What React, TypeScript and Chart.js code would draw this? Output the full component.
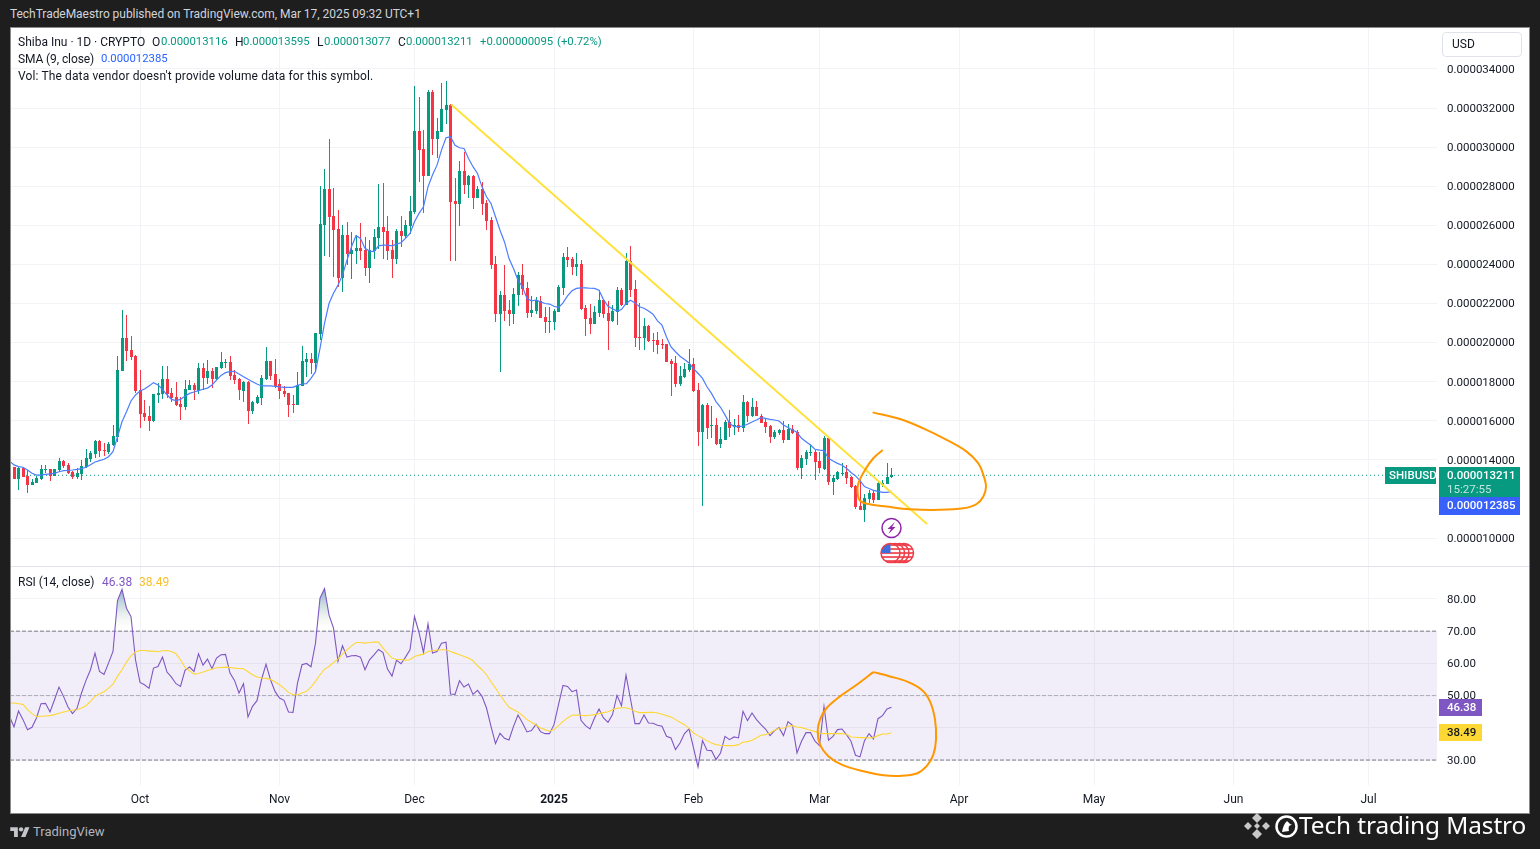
import React, { useEffect, useRef } from "react";
import { Chart, registerables } from "chart.js";

Chart.register(...registerables);

// Prices are given in millionths of a USD. Day 0 is 1 Oct 2024.
const firstCandleDay = -28;
// [open, high, low, close]
const candlesSep = [
  [13.63,13.65,13.02,13.02],[13.02,13.65,12.46,13.58],[13.58,13.62,13.11,13.14],[13.19,13.48,12.32,12.71],
  [12.71,13.0,12.71,12.85],[12.81,13.17,12.81,13.09],[13.02,13.72,12.97,13.53],[13.48,13.72,13.31,13.53],
  [13.53,13.53,12.92,13.17],[13.17,13.53,13.17,13.53],[13.48,14.11,13.38,13.94],[13.94,13.99,13.58,13.68],
  [13.74,13.84,13.28,13.33],[13.38,13.43,13.02,13.12],[13.12,13.58,13.02,13.33],[13.28,13.99,12.97,13.68],
  [13.63,14.55,13.58,14.09],[14.04,14.43,13.89,14.35],[14.3,15.01,14.09,14.96],[14.96,15.01,14.15,14.45],
  [14.5,14.86,14.2,14.45],[14.38,14.91,14.3,14.81],[14.76,15.78,14.71,15.22],[15.17,19.31,14.91,18.59],
  [18.54,21.66,18.54,20.23],[20.23,21.41,19.06,19.57],[19.62,20.33,19.11,19.26],[19.31,19.36,17.42,17.52],
];
const candlesOct = [
  [17.57,18.59,15.63,16.34],[16.4,17.06,15.99,16.19],[16.24,16.75,15.47,15.99],[15.99,17.37,15.94,17.37],
  [17.32,17.93,16.89,17.42],[17.37,18.8,17.11,18.13],[18.13,18.8,17.14,17.37],[17.42,17.67,16.96,17.16],
  [17.21,17.98,16.75,16.8],[16.86,17.21,16.04,16.7],[16.7,18.08,16.55,17.62],[17.57,18.08,17.57,17.83],
  [17.83,17.93,17.06,17.57],[17.52,18.94,17.37,18.7],[18.7,18.95,17.57,18.19],[18.19,19.11,17.88,18.54],
  [18.54,18.7,17.67,18.13],[18.13,18.75,18.08,18.75],[18.7,19.52,18.65,19.0],[18.95,19.16,18.7,19.0],
  [19.0,19.31,18.08,18.29],[18.34,18.59,17.88,18.08],[18.13,18.19,17.06,17.57],[17.52,18.03,16.96,17.98],
  [17.98,18.03,15.83,16.5],[16.5,17.01,16.34,16.96],[16.91,17.32,16.86,17.21],[17.16,18.34,16.8,18.19],
  [18.13,19.77,18.08,19.06],[19.06,19.06,18.08,18.29],[18.39,19.16,17.67,17.78],
];
const candlesNov = [
  [17.88,18.13,17.11,17.52],[17.52,17.78,17.21,17.37],[17.42,17.42,16.19,16.8],[16.86,17.32,16.4,16.8],
  [16.8,18.49,16.8,17.83],[17.78,19.82,17.78,19.06],[19.0,19.46,18.24,19.16],[19.16,19.45,18.39,18.95],
  [18.95,20.47,18.51,20.47],[20.44,28.01,20.13,26.06],[26.01,28.88,24.43,27.85],[27.85,30.41,24.39,26.42],
  [26.47,27.9,23.37,25.76],[25.81,26.78,22.86,23.33],[23.33,26.01,22.6,25.5],[25.5,26.17,23.97,24.53],
  [24.53,25.64,23.25,24.73],[24.68,25.5,24.02,24.83],[24.83,26.11,24.22,24.68],[24.73,25.41,23.4,23.81],
  [23.81,25.24,23.05,24.73],[24.68,25.81,24.27,25.4],[25.35,28.11,24.78,25.91],[25.91,28.16,24.27,25.65],
  [25.7,26.47,24.22,24.68],[24.73,25.24,23.3,24.27],[24.27,25.81,24.02,25.7],[25.7,26.47,24.9,25.45],
  [25.45,26.27,25.35,26.01],[25.96,27.49,25.55,26.73],
];
const candlesDec = [
  [26.68,33.12,26.57,30.82],[30.82,32.56,28.21,29.85],[29.9,30.87,26.61,28.52],[28.52,32.92,28.52,32.81],
  [32.81,32.92,29.59,30.41],[30.41,31.48,29.44,30.82],[30.77,33.27,30.77,31.95],[31.89,33.38,31.18,32.15],
  [32.15,32.23,24.17,27.19],[27.24,28.4,24.17,27.09],[27.09,29.29,25.96,28.77],[28.77,29.75,27.6,28.06],
  [28.06,28.57,27.39,28.52],[28.52,28.57,26.83,27.39],[27.39,28.01,27.39,27.85],[27.85,28.21,26.52,27.09],
  [27.14,27.29,25.76,26.22],[26.27,26.42,23.76,23.97],[24.02,24.43,21.05,21.46],[21.45,22.63,18.49,22.42],
  [22.42,23.96,21.1,21.61],[21.66,22.17,20.84,21.45],[21.45,22.78,20.94,22.48],[22.42,23.6,21.86,23.45],
  [23.45,24.01,22.42,22.73],[22.78,23.09,21.25,21.5],[21.5,22.37,21.3,21.66],[21.61,22.32,21.45,22.12],
  [22.12,22.37,21.25,21.25],[21.3,21.81,20.48,21.04],[21.04,21.81,20.48,21.1],
];
const candlesJan = [
  [21.04,21.71,20.63,21.61],[21.56,22.94,21.56,22.83],[22.78,24.57,22.42,24.37],[24.37,24.88,23.86,24.22],
  [24.27,24.37,23.45,23.86],[23.86,24.57,23.4,24.01],[24.01,24.22,21.66,21.71],[21.76,21.91,20.33,21.2],
  [21.25,21.96,20.43,20.94],[20.94,21.86,20.94,21.56],[21.5,22.68,21.3,22.17],[22.17,22.17,21.25,21.45],
  [21.5,22.12,19.61,21.1],[21.1,21.91,21.04,21.61],[21.56,22.83,20.89,22.68],[22.68,22.78,21.86,21.91],
  [21.91,24.57,21.91,24.16],[24.16,24.93,22.32,22.68],[22.73,23.19,19.77,20.23],[20.28,22.02,19.61,20.23],
  [20.23,21.25,19.61,20.84],[20.84,20.89,20.02,20.07],[20.12,20.48,19.51,20.07],[20.12,20.53,19.41,19.87],
  [19.92,20.17,19.66,19.87],[19.92,19.92,19.0,19.0],[19.05,19.15,17.26,18.9],[18.95,19.31,17.72,17.87],
  [17.87,18.79,17.77,18.28],[18.23,18.95,18.18,18.64],[18.59,19.66,18.49,18.9],
];
const candlesFeb = [
  [18.9,19.2,17.46,17.52],[17.57,17.91,14.71,15.43],[15.43,16.86,11.66,16.81],[16.81,16.89,15.07,15.63],
  [15.73,16.76,15.12,15.78],[15.78,16.14,14.76,14.81],[14.81,15.68,14.63,15.07],[15.02,16.04,15.02,15.94],
  [15.94,16.55,15.17,15.63],[15.73,16.09,15.27,15.78],[15.78,16.3,15.43,15.63],[15.63,17.32,15.43,16.96],
  [16.96,17.01,15.94,16.24],[16.24,17.16,16.19,16.7],[16.7,17.01,16.24,16.24],[16.24,16.35,15.89,15.89],
  [15.94,16.09,15.37,15.68],[15.73,15.78,14.86,15.17],[15.17,15.53,15.07,15.43],[15.37,15.58,15.27,15.53],
  [15.53,15.99,14.86,15.02],[15.02,15.83,15.02,15.58],[15.58,15.78,15.32,15.37],[15.43,15.53,13.48,13.58],
  [13.58,14.25,13.02,14.1],[14.04,14.5,13.74,14.4],[14.35,14.81,14.2,14.4],[14.4,14.5,12.97,13.89],
];
const candlesMar = [
  [13.94,14.4,13.33,13.58],[13.53,15.22,13.48,15.12],[15.12,15.17,12.71,12.87],[12.87,13.23,12.2,13.07],
  [13.02,13.43,12.97,13.38],[13.28,13.84,13.18,13.33],[13.38,13.74,12.77,13.07],[13.12,13.18,12.56,12.61],
  [12.66,12.71,11.49,11.59],[11.64,13.02,11.44,11.44],[11.44,12.25,10.82,12.05],[12.0,12.46,11.79,12.31],
  [12.31,12.46,11.79,11.95],[11.95,12.92,11.95,12.82],[12.71,12.97,12.61,12.82],[12.77,13.84,12.77,13.12],
  [13.116,13.595,13.077,13.211],
];
const lineFirstDay = -29;
const smaValues = [
  13.94,13.74,13.65,13.62,13.48,13.31,13.22,13.22,13.26,13.28,13.31,13.39,13.45,13.46,13.48,13.51,13.55,13.62,13.75,13.89,
  13.96,14.03,14.16,14.42,15.18,15.95,16.46,17.01,17.32,17.52,17.62,17.78,17.95,17.83,17.61,17.33,17.09,17.03,17.09,17.26,
  17.4,17.47,17.54,17.61,17.67,17.83,18.08,18.32,18.46,18.51,18.53,18.39,18.25,18.12,18.0,17.88,17.78,17.78,17.78,17.76,
  17.73,17.71,17.71,17.71,17.81,17.88,17.9,18.17,18.51,19.7,20.98,22.0,22.52,22.94,23.45,24.22,24.9,25.47,25.33,24.82,
  24.68,24.65,24.95,24.99,24.99,24.95,25.04,25.11,25.33,25.58,26.18,26.61,26.95,27.97,28.57,29.08,29.85,30.48,30.53,30.1,
  29.97,29.93,29.42,29.0,28.65,27.97,27.46,27.12,26.44,25.75,25.15,24.3,23.79,23.19,22.85,22.25,22.14,22.17,22.08,22.0,
  21.97,21.86,21.79,22.03,22.39,22.65,22.77,22.8,22.8,22.78,22.77,22.68,22.2,21.86,21.73,21.61,21.69,22.0,22.17,22.03,
  21.83,21.76,21.62,21.45,21.11,20.89,20.29,19.78,19.53,19.3,19.13,18.96,18.67,18.43,18.17,17.74,17.4,16.98,16.69,16.3,
  15.87,15.7,15.7,15.73,15.82,15.94,16.04,16.16,16.12,16.07,16.04,15.99,15.78,15.65,15.53,15.41,15.1,14.93,14.76,14.54,
  14.5,14.47,14.08,13.94,13.82,13.72,13.57,13.35,13.18,12.94,12.63,12.53,12.44,12.39,12.34,12.34,12.385,
];
const rsiValues = [
  43.57,40.27,45.22,42.54,39.44,40.17,43.06,47.49,47.6,44.91,48.73,52.65,49.76,46.46,44.4,46.05,50.8,54.72,58.02,63.18,
  57.5,56.58,60.09,63.7,79.49,83.0,77.11,74.53,61.12,54.1,53.38,52.24,58.54,59.05,61.94,57.3,55.75,53.69,52.86,57.81,
  58.85,57.5,62.97,59.47,61.32,58.33,61.63,62.66,62.77,56.99,54.72,50.8,53.69,43.37,46.67,48.42,54.92,59.77,54.92,51.31,
  49.25,48.53,44.91,44.81,53.89,59.57,59.98,58.95,66.28,80.21,83.2,75.05,70.92,60.6,65.45,61.94,62.35,62.46,61.94,58.02,
  61.11,62.66,64.31,63.38,58.22,56.06,61.01,59.88,61.94,64.21,74.53,69.58,63.38,72.26,63.18,63.69,66.27,66.58,50.48,50.38,
  54.61,52.65,53.58,50.38,51.62,49.76,46.15,40.47,35.11,38.31,36.76,36.24,40.47,43.98,41.51,38.72,39.13,41.09,38.82,38.2,
  38.2,40.99,47.18,53.17,52.86,51.21,51.72,42.33,40.68,39.65,43.05,45.84,43.05,41.71,44.09,50.07,46.87,56.37,48.94,41.3,
  41.3,43.98,41.51,41.4,40.78,40.47,37.38,36.86,33.25,35.31,38.2,39.65,33.76,27.88,36.03,33.04,32.94,30.15,32.21,37.37,
  36.34,37.17,36.86,45.11,42.23,44.6,42.53,40.99,39.64,37.58,39.13,40.06,37.58,41.91,40.78,32.21,35.83,38.51,38.51,35.83,
  34.48,46.66,36.14,37.37,39.44,39.64,37.89,35.83,31.49,30.98,36.03,38.2,36.55,42.84,43.77,45.84,46.38,
];
const rsiMaValues = [
  47.7,47.7,47.49,47.29,45.63,44.4,43.47,43.57,43.68,43.78,44.09,44.5,44.91,45.22,45.53,45.63,46.15,46.87,48.22,49.76,
  50.59,51.21,52.34,53.58,55.96,58.02,60.39,62.35,63.59,64.0,64.0,63.8,63.8,63.59,63.9,64.0,63.7,62.97,61.12,58.74,
  57.71,56.68,56.88,57.3,57.81,58.23,58.64,58.74,58.85,58.74,58.54,58.43,58.33,57.4,56.47,55.75,55.44,55.34,55.03,54.3,
  53.38,52.24,51.0,50.28,50.28,50.8,51.31,52.65,54.41,56.47,58.23,59.05,60.29,61.32,62.9,64.2,65.45,66.48,66.48,66.27,
  66.48,66.58,66.58,64.73,63.18,61.63,61.22,61.22,61.01,61.11,62.15,62.56,62.87,63.69,63.9,64.11,64.21,64.21,63.69,63.18,
  62.66,62.15,61.63,60.8,59.26,58.02,56.47,54.3,52.34,50.28,48.21,46.36,45.63,44.91,43.88,42.54,41.71,40.89,39.96,39.44,
  38.93,39.44,40.68,42.02,43.05,43.88,43.98,43.88,43.78,43.88,44.09,44.4,44.71,45.01,45.63,46.05,46.25,46.25,45.84,45.12,
  44.71,44.71,44.81,44.81,44.6,44.19,43.78,43.36,42.54,41.71,40.99,39.85,38.41,37.58,36.86,36.03,35.31,34.79,34.59,34.48,
  34.48,34.48,34.79,35.52,35.72,36.14,36.86,37.68,37.89,38.41,39.23,39.85,39.95,40.47,40.68,40.26,40.06,39.64,39.23,38.82,
  38.41,38.2,38.2,38.2,38.2,38.2,37.99,37.17,37.06,36.96,36.96,36.86,36.96,37.58,38.1,38.1,38.49,
];
// [day, price]
const trendLine = [[69.1,32.2],[174.9,10.72]];
const priceScribble = [
  [165.04,14.5],[162.96,14.08],[161.11,13.48],[159.63,12.8],[159.48,12.29],[160,11.91],[161.85,11.74],[165.93,11.61],
  [171.11,11.47],[177.78,11.44],[182.96,11.52],[185.93,11.74],[187.41,12.12],[188,12.63],[187.41,13.23],[186.3,13.82],
  [183.7,14.42],[179.26,15.02],[174.07,15.61],[168.89,16.09],[162.81,16.43],
];
// [day, rsi]
const rsiScribble = [
  [162.96,57.29],[159.26,53.37],[155.55,49.76],[152.59,46.15],[151.11,42.53],[150.59,38.92],[151.11,34.79],[152.96,31.18],
  [155.92,28.6],[160.74,26.54],[165.18,25.3],[168.89,25.09],[172.59,25.82],[174.81,28.09],[176.3,31.7],[176.89,36.34],
  [176.67,42.53],[175.55,48.21],[173.7,51.82],[170.37,54.4],[166.67,55.95],[162.96,57.29],
];
const monthDays = [0,31,61,92,123,151,182,212,243,273];
const monthLabels = ["Oct","Nov","Dec","2025","Feb","Mar","Apr","May","Jun","Jul"];
const priceTicks = [10,12,14,16,18,20,22,24,26,28,30,32,34];
const rsiTicks = [30,40,50,60,70,80];
const lastPrice = 13.211, lastSma = 12.385, lastRsi = 46.38, lastRsiMa = 38.49;
const eventDays = [170,169,168,167];

const TEAL = "#089981", RED = "#f23645", BLUE = "#2962ff", PURPLE = "#7e57c2", YELLOW = "#fdd835", ORANGE = "#ff9800";
const FONT = "Roboto, sans-serif";
const DAY_MIN = -28.889, DAY_MAX = 288.222;

const T: React.FC<{ x: number; y: number; c?: string; s?: number; w?: number; ls?: number; children: any }> = ({ x, y, c = "#131722", s = 12, w = 400, ls = 0, children }) => (
  <span style={{ position: "absolute", left: x, top: y, transform: "translateY(-50%)", color: c, fontSize: s, fontWeight: w, fontFamily: FONT, whiteSpace: "nowrap", lineHeight: 1, letterSpacing: ls }}>{children}</span>
);

export default function App() {
  const ref = useRef<HTMLCanvasElement>(null);
  useEffect(() => {
    const canvas = ref.current!;
    const ctx = canvas.getContext("2d")!;
    const candles = [...candlesSep, ...candlesOct, ...candlesNov, ...candlesDec, ...candlesJan, ...candlesFeb, ...candlesMar];
    const colors = candles.map((c) => (c[3] >= c[0] ? TEAL : RED));
    const lineSeries = (vals: number[]) => vals.map((y, i) => ({ x: lineFirstDay + i, y }));
    const pairs = (p: number[][]) => p.map(([x, y]) => ({ x, y }));
    const line = (data: any[], axis: string, color: string, width: number, order: number, extra: any = {}) => ({
      type: "line", data, yAxisID: axis, xAxisID: "x", borderColor: color, borderWidth: width, pointRadius: 0, order, tension: 0, fill: false, ...extra,
    });
    const overbought = ctx.createLinearGradient(0, 558, 0, 603);
    overbought.addColorStop(0, "rgba(80,130,190,0.75)");
    overbought.addColorStop(0.55, "rgba(170,200,200,0.4)");
    overbought.addColorStop(1, "rgba(255,250,220,0)");

    const snapPlugin = {
      id: "snap",
      beforeDatasetsDraw(chart: any) {
        chart.data.datasets.forEach((d: any, i: number) => {
          if (d.type !== "bar") return;
          chart.getDatasetMeta(i).data.forEach((el: any) => {
            el.x = Math.floor(el.x + 0.01) + 0.5;
            const top = Math.round(Math.min(el.y, el.base));
            let bottom = Math.round(Math.max(el.y, el.base));
            if (bottom <= top) bottom = top + 1;
            el.y = top; el.base = bottom;
          });
        });
      },
    };
    const tagsPlugin = {
      id: "tags",
      afterDraw(chart: any) {
        const c = chart.ctx, ys = chart.scales.y, yr = chart.scales.rsi, xs = chart.scales.x;
        const right = chart.chartArea.right;
        c.save();
        c.strokeStyle = "#e0e3eb"; c.lineWidth = 1;
        c.beginPath(); c.moveTo(0, Math.floor(ys.bottom) + 0.5); c.lineTo(chart.width, Math.floor(ys.bottom) + 0.5); c.stroke();
        const tag = (x: number, y: number, w: number, h: number, bg: string) => { c.fillStyle = bg; c.fillRect(x, Math.round(y), w, h); };
        const txt = (s: string, x: number, y: number, col: string, weight = 400) => {
          c.fillStyle = col; c.font = `${weight} 11.5px Roboto, sans-serif`; c.textBaseline = "middle"; c.textAlign = "left"; c.fillText(s, x, y);
        };
        const yl = ys.getPixelForValue(lastPrice);
        tag(right - 52, yl - 8.5, 51, 17, TEAL);
        txt("SHIBUSD", right - 48, yl + 0.5, "#ffffff", 500);
        tag(right + 2, yl - 8.5, 81, 30, TEAL);
        txt("0.000013211", right + 10, yl + 0.5, "#ffffff", 500);
        txt("15:27:55", right + 10, yl + 14.5, "rgba(255,255,255,0.75)");
        // the SMA tag is pushed below the last-price tag, as the original axis does
        const ysma = Math.max(ys.getPixelForValue(lastSma), yl + 30.5);
        tag(right + 2, ysma - 9, 81, 18, "#3861fb");
        txt("0.000012385", right + 10, ysma + 0.5, "#ffffff", 500);
        const yr1 = yr.getPixelForValue(lastRsi);
        tag(right + 2, yr1 - 8.5, 43, 17, PURPLE);
        txt("46.38", right + 10, yr1 + 0.5, "#ffffff", 500);
        const yr2 = yr.getPixelForValue(lastRsiMa);
        tag(right + 2, yr2 - 8.5, 43, 17, YELLOW);
        txt("38.49", right + 10, yr2 + 0.5, "#131722", 500);
        // events
        const ex = xs.getPixelForValue(167);
        const ey = ys.getPixelForValue(10.51);
        c.strokeStyle = "#8e24aa"; c.lineWidth = 1.5; c.fillStyle = "#ffffff";
        c.beginPath(); c.arc(ex, ey, 9.5, 0, Math.PI * 2); c.fill(); c.stroke();
        c.fillStyle = "#8e24aa";
        c.beginPath();
        c.moveTo(ex + 3.5, ey - 6); c.lineTo(ex - 4, ey + 1); c.lineTo(ex - 0.5, ey + 1); c.lineTo(ex - 3, ey + 6);
        c.lineTo(ex + 4, ey - 1); c.lineTo(ex + 0.5, ey - 1); c.closePath(); c.fill();
        const fy = ys.getPixelForValue(9.23);
        eventDays.forEach((d) => {
          const fx = xs.getPixelForValue(d) - 1;
          c.save();
          c.beginPath(); c.arc(fx, fy, 9.5, 0, Math.PI * 2); c.fillStyle = "#ffffff"; c.fill();
          c.clip();
          c.fillStyle = "#f05a63";
          for (let i = 0; i < 5; i++) c.fillRect(fx - 10, fy - 9 + i * 4, 20, 2);
          c.fillStyle = "#3c6ee0"; c.fillRect(fx - 10, fy - 9, 10, 9);
          c.restore();
          c.strokeStyle = "#ef3b47"; c.lineWidth = 1.5;
          c.beginPath(); c.arc(fx, fy, 9.5, 0, Math.PI * 2); c.stroke();
        });
        c.restore();
      },
    };
    const fitY = (s: any) => { s.width = 92; s.paddingTop = 0; s.paddingBottom = 0; };

    const chart = new Chart(canvas, {
      type: "bar",
      data: {
        datasets: [
          { type: "bar", data: candles.map((c, i) => ({ x: firstCandleDay + i, y: [c[2], c[1]] })), backgroundColor: colors, yAxisID: "y", xAxisID: "x", grouped: false, barPercentage: 1, categoryPercentage: 1, maxBarThickness: 1, inflateAmount: 0, borderWidth: 0, order: 21 },
          { type: "bar", data: candles.map((c, i) => ({ x: firstCandleDay + i, y: [Math.min(c[0], c[3]), Math.max(c[0], c[3])] })), backgroundColor: colors, yAxisID: "y", xAxisID: "x", grouped: false, barPercentage: 1, categoryPercentage: 1, maxBarThickness: 3, inflateAmount: 0, borderWidth: 0, order: 20 },
          line(lineSeries(smaValues), "y", "#4c7dff", 1.2, 15),
          line(pairs([[DAY_MIN, lastPrice], [276.67, lastPrice]]), "y", TEAL, 1, 22, { borderDash: [1, 3] }),
          line(pairs(trendLine), "y", "#ffe13b", 2, 12),
          line(pairs(priceScribble), "y", ORANGE, 2, 10, { tension: 0.35 }),
          line(pairs([[DAY_MIN, 70], [DAY_MAX, 70]]), "rsi", "#787b86", 1, 30, { borderDash: [4, 2], fill: { target: { value: 30 } }, backgroundColor: "rgba(126,87,194,0.1)" }),
          line(pairs([[DAY_MIN, 50], [DAY_MAX, 50]]), "rsi", "rgba(120,123,134,0.55)", 1, 29, { borderDash: [4, 2] }),
          line(pairs([[DAY_MIN, 30], [DAY_MAX, 30]]), "rsi", "#787b86", 1, 28, { borderDash: [4, 2] }),
          line(lineSeries(rsiValues), "rsi", PURPLE, 1.1, 16, { fill: { target: { value: 70 }, above: overbought, below: "rgba(0,0,0,0)" } }),
          line(lineSeries(rsiMaValues), "rsi", "#fdd835", 1.1, 14),
          line(pairs(rsiScribble), "rsi", ORANGE, 2, 9, { tension: 0.35 }),
        ] as any,
      },
      options: {
        responsive: false,
        animation: false,
        layout: { padding: 0 },
        events: [],
        plugins: { legend: { display: false }, tooltip: { enabled: false }, title: { display: false } },
        scales: {
          x: {
            type: "linear", position: "bottom", min: DAY_MIN, max: DAY_MAX, offset: false,
            grid: { color: "#f2f3f6", drawTicks: false, offset: false }, border: { display: false },
            afterBuildTicks: (s: any) => { s.ticks = monthDays.map((value) => ({ value })); },
            afterFit: (s: any) => { s.height = 28; s.paddingLeft = 0; s.paddingRight = 0; },
            ticks: {
              autoSkip: false, maxRotation: 0, padding: 8, color: "#131722",
              font: (c: any) => ({ family: FONT, size: 12, weight: c.tick && c.tick.value === 92 ? "bold" : "normal" }),
              callback: (v: any) => monthLabels[monthDays.indexOf(v)] ?? "",
            },
          },
          y: {
            type: "linear", position: "right", stack: "panes", stackWeight: 538.5, min: 8.542, max: 36.097, offset: false,
            grid: { color: "#f2f3f6", drawTicks: false }, border: { display: false },
            afterBuildTicks: (s: any) => { s.ticks = priceTicks.map((value) => ({ value })); },
            afterFit: fitY,
            ticks: { padding: 10, labelOffset: 1, color: "#131722", font: { family: FONT, size: 11.5 }, autoSkip: false, callback: (v: any) => (v * 1e-6).toFixed(9) },
          },
          rsi: {
            type: "linear", position: "right", stack: "panes", stackWeight: 218.5, min: 22.26, max: 90.06, offset: false,
            grid: { color: "#f2f3f6", drawTicks: false }, border: { display: false },
            afterBuildTicks: (s: any) => { s.ticks = rsiTicks.map((value) => ({ value })); },
            afterFit: fitY,
            ticks: { padding: 10, labelOffset: 1, color: "#131722", font: { family: FONT, size: 11.5 }, autoSkip: false, callback: (v: any) => Number(v).toFixed(2) },
          },
        },
      } as any,
      plugins: [snapPlugin, tagsPlugin] as any,
    });
    return () => chart.destroy();
  }, []);

  const V = 11.35;
  return (
    <div style={{ position: "fixed", left: 0, top: 0, width: 1540, height: 849, background: "#1e1e1e", overflow: "hidden" }}>
      <T x={10} y={14} c="#d1d4dc" ls={-0.04}>TechTradeMaestro published on TradingView.com, Mar 17, 2025 09:32 UTC+1</T>
      <canvas ref={ref} width={1519} height={785} style={{ position: "absolute", left: 10, top: 28, width: 1519, height: 785, background: "#ffffff" }} />
      <div style={{ position: "absolute", left: 10, top: 27, width: 1520, height: 787, boxSizing: "border-box", border: "1px solid #8a8a8a", pointerEvents: "none" }} />

      <T x={18} y={42}>Shiba Inu · 1D · CRYPTO</T>
      <T x={152} y={42}>O</T><T x={161} y={42} s={V} c={TEAL}>0.000013116</T>
      <T x={235} y={42}>H</T><T x={243} y={42} s={V} c={TEAL}>0.000013595</T>
      <T x={317} y={42}>L</T><T x={324} y={42} s={V} c={TEAL}>0.000013077</T>
      <T x={398} y={42}>C</T><T x={406} y={42} s={V} c={TEAL}>0.000013211</T>
      <T x={480} y={42} s={V} c={TEAL}>+0.000000095</T><T x={557} y={42} s={V} c={TEAL}>(+0.72%)</T>
      <T x={18} y={59} ls={-0.1}>SMA (9, close)</T><T x={101} y={59} s={V} c={BLUE}>0.000012385</T>
      <T x={18} y={76} ls={0.13}>Vol: The data vendor doesn't provide volume data for this symbol.</T>
      <T x={18} y={582}>RSI (14, close)</T><T x={102} y={582} c={PURPLE}>46.38</T><T x={139} y={582} c="#fbc02d">38.49</T>

      <div style={{ position: "absolute", left: 1442, top: 32, width: 80, height: 25, boxSizing: "border-box", background: "#fff", border: "1px solid #e0e3eb", borderRadius: 4 }} />
      <T x={1452} y={44}>USD</T>

      <svg style={{ position: "absolute", left: 10, top: 825 }} width="20" height="13" viewBox="0 0 36 24">
        <path fill="#c4c6cc" d="M14 22H7V11H0V4h14v18zM28 22h-8l7.5-18h8L28 22z" />
        <circle fill="#c4c6cc" cx="20" cy="8" r="4" />
      </svg>
      <T x={33} y={831} c="#b2b5be" s={13}>TradingView</T>

      <svg style={{ position: "absolute", left: 1243, top: 812 }} width="28" height="28" viewBox="0 0 28 28">
        <g fill="#c8c8c8">
          <path d="M14 1l5 5-5 5-5-5z" /><path d="M14 17l5 5-5 5-5-5z" /><path d="M1 14l4-4 4 4-4 4z" /><path d="M19 14l4-4 4 4-4 4z" /><path d="M14 11l3 3-3 3-3-3z" />
        </g>
      </svg>
      <svg style={{ position: "absolute", left: 1275, top: 815 }} width="23" height="23" viewBox="0 0 23 23">
        <circle cx="11.5" cy="11.5" r="10" fill="#1e1e1e" stroke="#ffffff" strokeWidth="2.5" />
        <path d="M7 17c1-5 2-8 5-11 2 2 3 3 5 4-3 0-4 2-3 6" fill="#ffffff" />
      </svg>
      <span style={{ position: "absolute", left: 1299, top: 825, transform: "translateY(-50%)", color: "#ffffff", fontFamily: "'Noto Sans', sans-serif", fontSize: 24.4, letterSpacing: -0.1, whiteSpace: "nowrap", lineHeight: 1 }}>Tech trading Mastro</span>
    </div>
  );
}
